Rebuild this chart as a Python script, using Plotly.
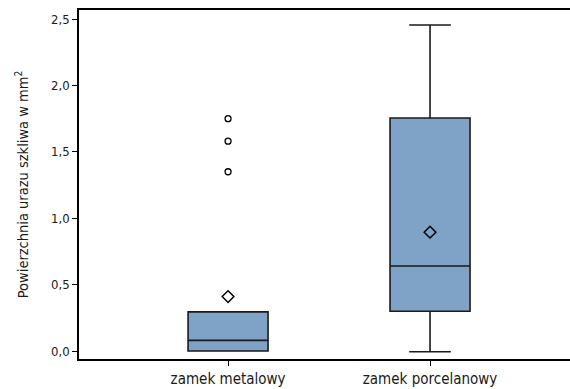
import plotly.graph_objects as go

categories = ["zamek metalowy", "zamek porcelanowy"]
q1 = [0.0, 0.30]
median = [0.08, 0.64]
q3 = [0.295, 1.755]
lower_fence = [0.0, -0.005]
upper_fence = [0.295, 2.455]
means = [0.41, 0.895]
outlier_cat = ["zamek metalowy", "zamek metalowy", "zamek metalowy"]
outlier_val = [1.75, 1.58, 1.35]

FONT = "DejaVu Sans Condensed, DejaVu Sans, sans-serif"

fig = go.Figure()
fig.add_trace(go.Box(
    x=categories, q1=q1, median=median, q3=q3,
    lowerfence=lower_fence, upperfence=upper_fence,
    fillcolor="#7fa2c7", line=dict(color="#1a1a1a", width=1.6),
    width=0.396, whiskerwidth=0.52, boxpoints=False, showlegend=False,
    hoverinfo="skip",
))
fig.add_trace(go.Scatter(
    x=categories, y=means, mode="markers",
    marker=dict(symbol="diamond-open", size=9, color="black", line=dict(width=1.5)),
    showlegend=False, hoverinfo="skip",
))
fig.add_trace(go.Scatter(
    x=outlier_cat, y=outlier_val, mode="markers",
    marker=dict(symbol="circle-open", size=6, color="black", line=dict(width=1.3)),
    showlegend=False, hoverinfo="skip",
))

fig.update_layout(
    width=570, height=389,
    margin=dict(l=79, r=0, t=10, b=30, autoexpand=False),
    paper_bgcolor="white", plot_bgcolor="white",
    separators=", ",
    font=dict(family=FONT, size=14, color="#1a1a1a"),
    xaxis=dict(
        type="category", range=[-0.738, 1.693],
        showline=True, mirror=True, linecolor="black", linewidth=1.5,
        ticks="outside", ticklen=5, tickcolor="black", showgrid=False,
        tickfont=dict(size=15), zeroline=False,
    ),
    yaxis=dict(
        range=[-0.06, 2.568], tickvals=[0, 0.5, 1.0, 1.5, 2.0, 2.5],
        tickformat=".1f", showline=True, linecolor="black", linewidth=1.5,
        ticks="outside", ticklen=5, tickcolor="black", showgrid=False, zeroline=False,
        tickfont=dict(size=13),
        title=dict(text="Powierzchnia urazu szkliwa w mm<sup>2</sup>",
                   font=dict(size=14.5), standoff=19),
    ),
)

fig.write_html("out.html", config={"displayModeBar": False},
               post_script="document.body.style.margin='0';document.body.style.overflow='hidden';")
